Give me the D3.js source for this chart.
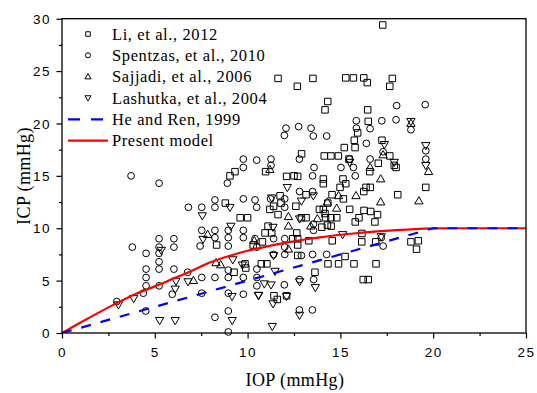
<!DOCTYPE html>
<html>
<head>
<meta charset="utf-8">
<script src="https://cdn.jsdelivr.net/npm/d3@7"></script>
<style>
  html, body { margin: 0; padding: 0; background: #fff; }
  svg { display: block; font-family: "Liberation Serif", "Times New Roman", serif; }
</style>
</head>
<body>
<svg id="chart" width="537" height="393"></svg>
<script>
// ---- Data ----
const seriesNames = ["Li, et al., 2012", "Spentzas, et al., 2010", "Sajjadi, et al., 2006", "Lashutka, et al., 2004", "He and Ren, 1999", "Present model"];

const li2012 = [
  [9.32,15.4],[9.05,15.0],[10.97,15.4],[8.8,12.4],[9.6,11.0],[10.0,11.0],[10.94,9.55],[10.8,8.7],[10.3,8.4],[8.33,8.4],
  [10.74,6.6],[11.04,6.6],[9.86,6.6],[9.9,6.2],[9.27,5.8],
  [17.28,29.4],[11.64,24.3],[12.68,23.55],[13.52,24.3],[15.29,24.35],[15.7,24.35],[16.26,24.35],[16.45,23.9],[17.8,24.3],[17.66,23.55],
  [14.32,22.1],[14.17,21.3],[16.47,21.3],[16.5,20.2],[15.93,19.1],[15.75,18.4],[15.79,17.7],[15.21,17.7],[12.91,17.1],[14.13,16.9],
  [14.49,16.9],[14.89,16.9],[15.46,16.6],[17.24,18.4],[17.66,16.9],[17.04,16.2],[17.9,16.0],
  [12.1,14.95],[12.5,15.0],[12.7,14.95],[14.08,14.7],[14.08,14.25],[15.14,14.7],[15.29,14.25],[16.58,15.4],[18.0,15.8],[14.98,13.9],
  [16.38,13.9],[16.61,13.9],[16.26,13.5],[19.6,13.9],[18.09,13.2],[14.55,13.2],[15.16,12.8],[13.15,13.2],[11.75,13.1],[11.8,12.4],
  [11.2,11.8],[11.4,12.1],[12.6,12.1],[14.32,12.4],[13.87,11.8],[14.08,11.8],[14.17,11.4],[14.2,11.0],[14.49,11.0],[14.8,11.0],
  [15.5,11.8],[16.27,11.7],[16.63,11.6],[17.0,11.3],[16.0,11.0],[15.8,10.6],[16.86,10.6],[11.64,11.3],[12.9,11.0],[13.15,11.0],
  [11.1,10.2],[11.3,9.55],[12.65,9.55],[12.7,9.0],[12.43,9.0],[14.0,10.1],[14.3,10.3],[14.5,10.2],[16.16,9.5],[14.56,8.8],
  [13.3,8.8],[16.9,8.7],[16.15,8.7],[18.8,8.7],[19.2,8.8],[19.1,8.0],[12.7,8.4],[12.7,7.4],[15.25,7.3],[14.33,6.6],
  [14.9,6.6],[15.73,6.6],[16.92,6.6],[13.63,5.8],[16.23,5.1],[16.5,5.1],[11.42,3.55],[11.6,3.2],[12.1,3.55]
];

const spentzas2010 = [
  [3.72,15.0],[5.23,14.3],[9.77,16.6],[10.49,16.5],[9.77,15.8],[8.91,14.3],[6.81,12.0],[7.53,12.0],[8.24,12.7],[8.24,12.0],
  [9.77,12.8],[10.4,12.7],[10.49,12.0],[3.79,8.2],[5.23,9.0],[5.23,8.2],[6.03,9.0],[6.03,8.2],[7.53,9.8],[7.44,8.3],
  [8.24,9.8],[8.24,9.1],[8.96,9.8],[8.96,9.1],[8.96,8.3],[9.77,9.8],[9.77,9.1],[4.53,7.6],[5.23,7.6],[5.23,6.8],
  [4.53,6.1],[5.23,6.1],[4.53,5.3],[6.03,6.1],[4.53,4.5],[5.23,4.5],[4.38,3.8],[5.94,3.7],[6.77,5.8],[7.53,5.3],
  [8.24,5.3],[7.53,3.8],[8.24,1.5],[8.96,2.1],[8.96,6.0],[8.96,5.3],[8.96,3.8],[9.77,5.3],[9.77,3.7],[10.5,5.3],
  [10.5,4.5],[4.51,2.1],[2.95,3.0],[8.96,0.1],
  [18.03,21.7],[19.57,21.8],[15.86,20.26],[17.23,20.26],[18.0,20.35],[12.07,19.55],[11.98,18.86],[12.75,19.7],[13.42,19.55],[13.54,18.8],
  [14.26,18.8],[15.86,19.55],[16.6,19.5],[16.4,18.1],[18.8,19.4],[11.26,16.6],[11.26,16.0],[12.79,16.6],[13.58,15.8],[15.5,16.6],
  [16.6,16.6],[17.3,17.3],[19.6,16.6],[19.6,17.4],
  [15.03,15.8],[15.7,15.8],[13.5,15.0],[15.8,15.0],[12.8,13.5],[13.5,13.5],[12.0,12.8],[12.0,12.0],[11.24,12.8],[10.4,9.0],
  [10.5,8.2],[11.4,9.0],[12.0,9.0],[12.0,8.2],[12.0,7.5],[11.4,7.5],[12.9,7.4],[13.5,7.5],[14.26,7.5],[13.55,9.8],
  [13.55,10.4],[10.5,6.1],[11.98,4.6],[12.8,5.1],[13.56,5.1],[12.79,2.2],[13.49,2.2],[17.2,9.1],[17.3,8.3]
];

const sajjadi2006 = [
  [7.85,9.4],[8.55,6.5],[7.08,5.0],[10.36,8.8],[8.3,6.7],
  [16.6,15.8],[17.3,17.0],[18.8,20.0],[11.2,15.6],
  [17.17,14.7],[19.75,15.4],[15.84,13.1],[17.17,12.5],[19.23,12.6],[14.9,13.1],[14.3,12.5],[14.8,11.9],[12.2,11.1],[13.76,10.9],
  [12.2,10.2],[12.2,8.0],[13.4,10.2]
];

const lashutka2004 = [
  [7.56,11.2],[9.05,12.0],[9.1,10.2],[7.6,8.95],[5.35,7.9],[6.14,4.95],[6.1,4.2],[6.79,4.9],[9.2,7.0],[9.72,6.5],
  [9.16,3.5],[10.6,3.6],[3.86,3.3],[3.04,2.7],[5.26,1.2],[6.1,1.2],[9.17,1.2],[10.9,4.7],
  [18.8,20.2],[17.37,18.0],[17.9,16.3],[19.6,17.9],[15.5,16.3],
  [11.3,12.9],[12.9,12.6],[13.54,13.1],[12.14,13.9],[12.8,10.9],[11.37,10.1],[15.12,9.4],[11.4,7.4],[11.48,5.9],[11.26,4.6],
  [12.8,4.9],[13.65,4.35],[10.58,3.6],[12.1,3.5],[11.37,2.8],[12.8,1.7],[11.33,0.64],[17.2,9.2],[19.6,16.0]
];

const heRenX = [0, 5, 10, 15, 20, 25];
const heRenY = [0, 2.5, 5.0, 7.5, 10.0, 10.0];

const modelX = [0, 1, 2, 3, 4, 5, 6, 7, 8, 9, 10, 11, 12, 13, 14, 15, 16, 17, 18, 19, 20, 21, 22, 23, 24, 25];
const modelY = [0, 1.0, 1.97, 2.9, 3.75, 4.45, 5.2, 5.95, 6.75, 7.35, 7.85, 8.25, 8.6, 8.9, 9.15, 9.38, 9.55, 9.7, 9.82, 9.92, 9.98, 10, 10, 10, 10, 10];

const xTicks = [0, 5, 10, 15, 20, 25];
const yTicks = [0, 5, 10, 15, 20, 25, 30];
const xLabel = "IOP (mmHg)";
const yLabel = "ICP (mmHg)";

// ---- Layout ----
const W = 537, H = 393;
const m = { left: 62, right: 11, top: 18.7, bottom: 60 };
const svg = d3.select("#chart");

const x = d3.scaleLinear().domain([0, 25]).range([m.left, W - m.right]);
const y = d3.scaleLinear().domain([0, 30]).range([H - m.bottom, m.top]);

const clipId = "plotclip";
svg.append("defs").append("clipPath").attr("id", clipId)
  .append("rect").attr("x", m.left).attr("y", m.top)
  .attr("width", W - m.left - m.right).attr("height", H - m.top - m.bottom);

// ---- Markers ----
const plot = svg.append("g");
const sq = d3.symbol().type(d3.symbolSquare).size(42);
const ci = d3.symbol().type(d3.symbolCircle).size(36);
const tr = d3.symbol().type(d3.symbolTriangle).size(30);

function drawSeries(data, gen, rot, yOff) {
  plot.append("g").selectAll("path").data(data).join("path")
    .attr("d", gen)
    .attr("transform", d => `translate(${x(d[0])},${y(d[1]) + (yOff||0)})` + (rot ? ` rotate(${rot})` : ""))
    .attr("fill", "none").attr("stroke", "#000").attr("stroke-width", 1);
}
drawSeries(li2012, sq, 0);
drawSeries(spentzas2010, ci, 0);
drawSeries(sajjadi2006, tr, 0, 0.5);
drawSeries(lashutka2004, tr, 180, -0.5);

// ---- Lines ----
const line = d3.line().x(d => x(d[0])).y(d => y(d[1]));
const lines = svg.append("g").attr("clip-path", `url(#${clipId})`);
lines.append("path")
  .datum(modelX.map((v, i) => [v, modelY[i]]))
  .attr("d", d3.line().x(d => x(d[0])).y(d => y(d[1])).curve(d3.curveMonotoneX))
  .attr("fill", "none").attr("stroke", "#ff0000").attr("stroke-width", 2.2);
lines.append("path")
  .datum(heRenX.map((v, i) => [v, heRenY[i]]))
  .attr("d", line)
  .attr("fill", "none").attr("stroke", "#0000ff").attr("stroke-width", 2.2)
  .attr("stroke-dasharray", "10,10");

// ---- Axes ----
const gx = svg.append("g").attr("transform", `translate(0,${H - m.bottom})`);
gx.call(d3.axisBottom(x).tickValues(d3.range(0, 25.01, 2.5)).tickSize(3).tickFormat(""));
gx.selectAll(".tick line").attr("stroke-width", 1.2);
gx.selectAll(".tick").filter(d => xTicks.includes(d)).select("line").attr("y2", 5.5);
gx.select(".domain").remove();
gx.selectAll(".tick").filter(d => xTicks.includes(d)).append("text")
  .attr("y", 24).attr("fill", "#000").attr("text-anchor", "middle")
  .style("font-size", "13.5px").style("letter-spacing", "1.5px")
  .text(d => d);

const gy = svg.append("g").attr("transform", `translate(${m.left},0)`);
gy.call(d3.axisLeft(y).tickValues(d3.range(0, 30.01, 2.5)).tickSize(3).tickFormat(""));
gy.selectAll(".tick line").attr("stroke-width", 1.2);
gy.selectAll(".tick").filter(d => yTicks.includes(d)).select("line").attr("x2", -5.5);
gy.select(".domain").remove();
gy.selectAll(".tick").filter(d => yTicks.includes(d)).append("text")
  .attr("x", -11).attr("dy", "0.34em").attr("fill", "#000").attr("text-anchor", "end")
  .style("font-size", "13.5px").style("letter-spacing", "1.5px")
  .text(d => d);

// frame
svg.append("rect")
  .attr("x", x(0)).attr("y", y(30))
  .attr("width", x(25) - x(0)).attr("height", y(0) - y(30))
  .attr("fill", "none").attr("stroke", "#000").attr("stroke-width", 1.3);

// axis titles
svg.append("text").attr("x", 295).attr("y", 386)
  .attr("text-anchor", "middle").style("font-size", "18px").style("letter-spacing", "0.4px").text(xLabel);
svg.append("text")
  .attr("transform", `translate(29.5,176) rotate(-90)`)
  .attr("text-anchor", "middle").style("font-size", "18px").style("letter-spacing", "0.4px").text(yLabel);

// ---- Legend ----
const leg = svg.append("g");
const rowY = [34, 55.3, 76.6, 98, 119.3, 140.6];
const symGens = [[sq, 0, 20], [ci, 0, 20], [tr, 0, 16], [tr, 180, 16]];
seriesNames.forEach((name, i) => {
  const g = leg.append("g").attr("transform", `translate(0,${rowY[i]})`);
  if (i < 4) {
    const [gen, rot, size] = symGens[i];
    g.append("path").attr("d", gen.size(size)())
      .attr("transform", `translate(88,${i === 2 ? 0.5 : i === 3 ? -0.5 : 0})` + (rot ? ` rotate(${rot})` : ""))
      .attr("fill", "none").attr("stroke", "#000").attr("stroke-width", 1);
  } else if (i === 4) {
    g.append("line").attr("x1", 68).attr("x2", 103).attr("y1", 0).attr("y2", 0)
      .attr("stroke", "#0000ff").attr("stroke-width", 2.2).attr("stroke-dasharray", "12,11");
  } else {
    g.append("line").attr("x1", 68).attr("x2", 108).attr("y1", 0).attr("y2", 0)
      .attr("stroke", "#ff0000").attr("stroke-width", 2.2);
  }
  g.append("text").attr("x", 112).attr("y", 0).attr("dy", "0.34em")
    .style("font-size", "16.5px").style("letter-spacing", "0.6px").text(name);
});
sq.size(42); ci.size(36); tr.size(30);
</script>
</body>
</html>
